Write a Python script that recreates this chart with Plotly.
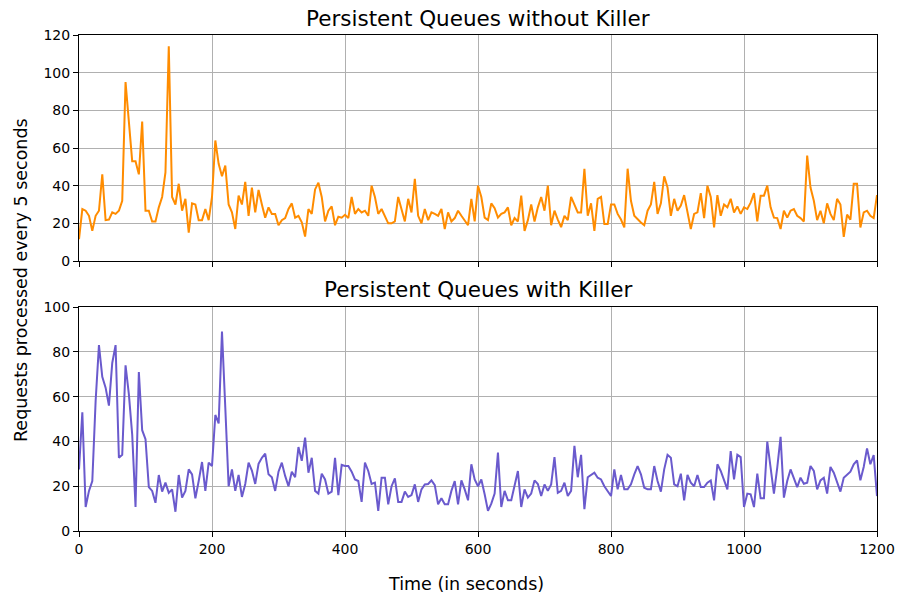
import numpy as np
import plotly.graph_objects as go
from plotly.subplots import make_subplots

# time axis: one sample every 5 seconds
time_s = list(range(0, 1201, 5))

# Requests processed every 5 seconds - without killer
without_killer = [
    # 0..200
    11.6, 27.6, 26.7, 24, 16, 24, 26.7, 46, 21.7, 22, 25.8, 25, 26.7, 32, 95, 72, 53, 53, 46, 74,
    26.7, 26.7, 21, 21, 28.5, 34, 47, 114, 34, 30, 41, 26.7, 33, 15, 30.6, 30, 21.7, 21.7, 27.6, 21.7, 34,
    # 205..400
    64, 51.6, 45, 50.7, 30, 25.8, 17, 34.7, 30, 42, 24, 39, 25.8, 37.7, 30, 23, 28.5, 25, 25, 19,
    21.7, 22.8, 27.6, 30.6, 23, 24, 20.5, 13, 27.6, 25, 38, 41.6, 34, 21, 26.7, 29, 19, 23.5, 23, 24.5,
    # 405..600
    22.8, 34, 25, 27.6, 25.8, 26.7, 24, 40, 34, 25, 27.6, 24, 20, 20, 21, 34, 27.6, 21, 33, 25.8,
    43.6, 24, 20, 27.6, 21.7, 25.8, 25, 24, 27.6, 17, 25.8, 21, 22.8, 26.7, 24, 21.4, 19, 33, 21, 40,
    # 605..800
    34, 23, 21.7, 30.6, 28, 23, 25, 25.8, 28.5, 19, 22.8, 21, 34.7, 16, 21.7, 30, 21, 28.5, 34, 26.7,
    40, 19, 26.7, 22, 18, 24, 21.7, 34, 30, 25.8, 25.8, 49, 24, 30.6, 16, 33, 34, 19.6, 19.6, 30,
    # 805..1000
    30, 25, 22, 17.8,
    49, 32, 24, 22, 20.5, 19, 26.7, 30, 42, 25, 30.6, 45, 39, 24, 33, 26.7, 29.4, 35, 25, 17,
    25, 25.8, 36, 22.8, 40, 34, 17.8, 35, 24, 30, 28.5, 33, 25.8, 29, 25, 28.5,
    # 1005..1200
    27.6, 31, 36, 21, 34.7, 34.7, 40, 28.5, 23, 22.8, 17, 26.7, 23, 26.7, 27.6, 24, 22.8, 21, 56, 39,
    32, 21.7, 26.7, 20, 30.6, 25, 21.7, 33, 30, 12.8, 24.6, 22, 41, 41, 17.8, 25.8, 26.7, 24, 22.8, 35,
]

# Requests processed every 5 seconds - with killer
with_killer = [
    # 0..200
    27.5, 53, 10.7, 17.9, 22.3, 58, 83, 68.8, 64, 56, 75, 83, 32.7, 34, 74, 61, 43, 10.7, 71, 45,
    41, 19.6, 17.9, 12.6, 25, 17.6, 21.6, 17, 18.6, 8.6, 25, 14.9, 17.9, 27.5, 25.3, 14.6, 22.3, 30.8, 17.9, 30.5, 29,
    # 205..400
    51.8, 48, 89, 55, 20, 27.5, 17.9, 25, 15.2, 21, 30.5, 27, 21, 30, 32.7, 34.5, 25.3, 24, 17.9, 26.5,
    30.5, 24.6, 20, 26.5, 24, 37.5, 31.3, 41.7, 26, 32.7, 17.9, 16.7, 25.6, 23, 16.7, 17.6, 32.7, 16, 29.5, 29,
    # 405..600
    29, 26.5, 23, 22.3, 13, 30.5, 26.8, 21, 21.6, 9, 23.8, 23.8, 11.9, 20, 23.5, 13, 13, 17.6, 15.2, 16,
    20.8, 13, 18.6, 20.8, 21, 22.6, 20.5, 11.9, 14.6, 11.9, 11.9, 17.9, 22.3, 11.9, 22.6, 18.6, 13.7, 29.8, 23, 20,
    # 605..795
    23, 16.4, 9, 12.2, 16.7, 35, 10.7, 17.9, 13.7, 13.7, 20, 26.8, 10.7, 18.6, 14.9, 16.7, 22.6, 21, 15.6, 20.8,
    17.9, 20.8, 33, 17, 17.9, 21.6, 15.6, 17.9, 38, 24, 34, 9.7, 24, 25, 26, 23.8, 23, 20, 18,
    # 800..995
    15.6, 27.5, 18.6, 25, 18.6, 18.6, 20.8, 25.3, 29, 25.3, 19.3, 18.6, 18.6, 29, 22.3, 17.6, 27.5, 34, 32.7, 20.8,
    20, 25.6, 13.7, 25, 21.6, 20, 25, 19.6, 19.6, 21.6, 22.6, 13.7, 29.8, 26.8, 23, 18.6, 35.7, 23, 34, 33,
    # 1000..1200
    10.7, 16.7, 16.4, 10.7, 25.6, 14.6, 14.6, 39.9, 28.3, 16.7, 28.3, 42, 14.9, 22.3, 27.5, 23.8, 19.6, 23.8, 21.1, 21.6,
    29, 26.8, 18.6, 22.6, 23.8, 16.7, 28.6, 26, 21.6, 17.6, 23.8, 25, 26.5, 29.8, 31.5, 22.6, 28.6, 36.9, 29.8, 33.9, 15.6,
]

top_title = "Persistent Queues without Killer"
bottom_title = "Persistent Queues with Killer"
y_label = "Requests processed every 5 seconds"
x_label = "Time (in seconds)"

FONT = "DejaVu Sans"
W, H = 901, 598
L, R, T, B = 79, 24, 35, 67
plot_h = H - T - B
plot_w = W - L - R

def py(pix):
    return (H - B - pix) / plot_h

def px(pix):
    return (pix - L) / plot_w

fig = make_subplots(rows=2, cols=1, shared_xaxes=True)
fig.add_trace(go.Scatter(x=time_s, y=without_killer, mode="lines",
                         line=dict(color="#ff8c00", width=2), showlegend=False), row=1, col=1)
fig.add_trace(go.Scatter(x=time_s, y=with_killer, mode="lines",
                         line=dict(color="#6a5acd", width=2), showlegend=False), row=2, col=1)

axis_common = dict(showline=True, linecolor="black", linewidth=1, mirror=True,
                   ticks="outside", ticklen=5, tickcolor="black", tickwidth=1,
                   showgrid=True, gridcolor="#b0b0b0", gridwidth=1.1, zeroline=False,
                   automargin=False,
                   tickfont=dict(family=FONT, size=14, color="black"))

fig.update_layout(
    template="none",
    width=W, height=H, margin=dict(l=L, r=R, t=T, b=B, autoexpand=False),
    paper_bgcolor="white", plot_bgcolor="white",
    font=dict(family=FONT, color="black"),
    xaxis=dict(domain=[0, 1], range=[0, 1200], dtick=200, showticklabels=False, **axis_common),
    xaxis2=dict(domain=[0, 1], range=[0, 1200], dtick=200, **axis_common),
    yaxis=dict(domain=[py(261), 1], range=[0, 120], dtick=20, **axis_common),
    yaxis2=dict(domain=[0, py(307)], range=[0, 100], dtick=20, **axis_common),
)

fig.add_annotation(text=top_title, xref="paper", yref="paper", x=0.5, y=py(18),
                   showarrow=False, xanchor="center", yanchor="middle",
                   font=dict(family=FONT, size=21.5, color="black"))
fig.add_annotation(text=bottom_title, xref="paper", yref="paper", x=0.5, y=py(289),
                   showarrow=False, xanchor="center", yanchor="middle",
                   font=dict(family=FONT, size=21.5, color="black"))
fig.add_annotation(text=y_label, xref="paper", yref="paper", x=px(21), y=py(280),
                   showarrow=False, xanchor="center", yanchor="middle", textangle=-90,
                   font=dict(family=FONT, size=17.5, color="black"))
fig.add_annotation(text=x_label, xref="paper", yref="paper", x=px(466), y=py(584),
                   showarrow=False, xanchor="center", yanchor="middle",
                   font=dict(family=FONT, size=17.5, color="black"))

fig.write_html("out.html", config={"displayModeBar": False},
               post_script="document.body.style.margin='0';document.body.style.overflow='hidden';")
